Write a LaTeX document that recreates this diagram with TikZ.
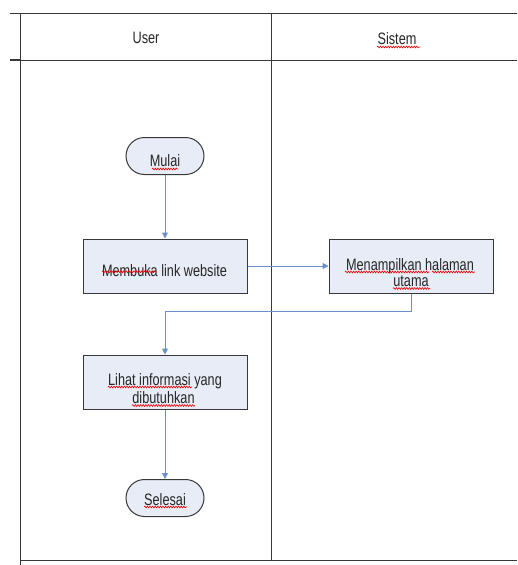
\documentclass[tikz,border=0pt]{standalone}
\usepackage{fontspec}
\setmainfont{Liberation Sans}
\usetikzlibrary{arrows.meta,shapes.misc,decorations.pathmorphing}
\definecolor{boxfill}{HTML}{E8ECF7}
\definecolor{flow}{HTML}{6A90C9}
\definecolor{grid}{HTML}{383838}
\newcommand{\cz}[1]{\scalebox{0.77}[1]{#1}}
\tikzset{
  x=1pt,y=-1pt,
  lane/.style={draw=grid,line width=1pt},
  term/.style={draw=grid,fill=boxfill,rounded rectangle,minimum width=78pt,minimum height=37pt,inner sep=0pt,line width=1pt},
  proc/.style={draw=grid,fill=boxfill,rectangle,minimum width=164pt,minimum height=54pt,inner sep=0pt,line width=1pt},
  txt/.style={anchor=base,inner sep=0pt,text=black!85,font=\fontsize{16.5}{18}\selectfont},
  flowline/.style={draw=flow,line width=1pt,-{Triangle[length=6pt,width=6pt]}},
  squig/.style={draw=red!90!black,line width=0.6pt,decorate,decoration={snake,amplitude=0.9pt,segment length=2.6pt}}
}
\begin{document}
\begin{tikzpicture}
\useasboundingbox (0,0) rectangle (517,565);
% swimlane grid
\draw[lane] (10,13) -- (517,13);
\draw[lane] (10,60) -- (517,60);
\draw[lane,line width=1.8pt] (10,60) -- (20,60);
\draw[lane] (20,13) -- (20,565);
\draw[lane] (271,13) -- (271,560);
\draw[lane] (20,560) -- (517,560);
\node[txt] (huser) at (146,43.3) {\cz{User}};
\node[txt] (hsis) at (397,44.3) {\cz{Sistem}};
% shapes
\node[term] (mulai) at (165,156) {};
\node[proc] (buka) at (165,266) {};
\node[proc] (tampil) at (411,266) {};
\node[proc] (lihat) at (165,382) {};
\node[term] (selesai) at (165,498) {};
% texts
\node[txt] (mulait) at (165,166.5) {\cz{Mulai}};
\node[txt] (bukat) at (164.5,276.7) {\cz{Membuka link website}};
\node[txt] (tampilt1) at (410,270) {\cz{Menampilkan halaman}};
\node[txt] (tampilt2) at (411,286.7) {\cz{utama}};
\node[txt] (lihatt1) at (165,385.3) {\cz{Lihat informasi yang}};
\node[txt] (lihatt2) at (163.5,403.7) {\cz{dibutuhkan}};
\node[txt] (selesait) at (165,505) {\cz{Selesai}};
\coordinate (c1) at (411,311);
\coordinate (c2) at (165,311);
% connectors
\draw[flowline] (mulai) -- (buka);
\draw[flowline] (buka) -- (tampil);
\draw[flowline] (tampil.south) -- (c1) -- (c2) -- (lihat.north);
\draw[flowline] (lihat) -- (selesai);
% spell-check marks
\draw[squig] (377,47) -- (420,47);
\draw[squig] (152,169) -- (178,169);
\draw[squig] (102,271.7) -- (156,271.7);
\draw[squig] (345,272) -- (429,272);
\draw[squig] (432,272) -- (475,272);
\draw[squig] (393,288.5) -- (430,288.5);
\draw[squig] (108,387) -- (192,387);
\draw[squig] (132,405.5) -- (195,405.5);
\draw[squig] (144,507) -- (187,507);
\end{tikzpicture}
\end{document}
